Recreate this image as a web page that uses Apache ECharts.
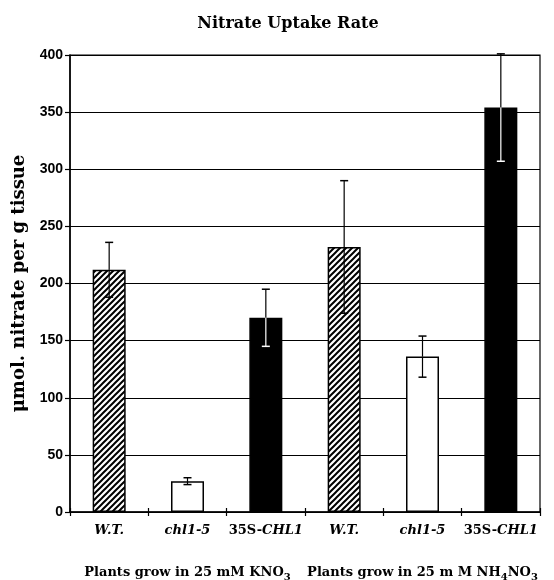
<!DOCTYPE html>
<html>
<head>
<meta charset="utf-8">
<script src="https://cdn.jsdelivr.net/npm/echarts@6/dist/echarts.min.js"></script>
<style>
html,body{margin:0;padding:0;background:#fff;}
#chart{width:554px;height:580px;}
</style>
</head>
<body>
<div id="chart"></div>
<script>
// ---- data ----
var categories = ['W.T.', 'chl1-5', '35S-CHL1', 'W.T.', 'chl1-5', '35S-CHL1'];
var values = [212, 27, 170, 232, 136, 354];
var errors = [24, 3, 25, 58, 18, 47];
var fills = ['hatch', 'white', 'black', 'hatch', 'white', 'black'];
var groupLabels = ['Plants grow in 25 mM KNO{s|3}', 'Plants grow in 25 m M NH{s|4}NO{s|3}'];
var yTicks = [0, 50, 100, 150, 200, 250, 300, 350, 400];

var SERIF = 'DejaVu Serif';

// hatch pattern
function makeHatch() {
  var s = 6;
  var c = document.createElement('canvas');
  c.width = s; c.height = s;
  var ctx = c.getContext('2d');
  ctx.fillStyle = '#fff';
  ctx.fillRect(0, 0, s, s);
  ctx.strokeStyle = '#000';
  ctx.lineWidth = 2;
  ctx.beginPath();
  ctx.moveTo(-s, 2 * s); ctx.lineTo(2 * s, -s);
  ctx.moveTo(-s, s); ctx.lineTo(s, -s);
  ctx.moveTo(0, 2 * s); ctx.lineTo(2 * s, 0);
  ctx.stroke();
  return c;
}
var hatch = makeHatch();

function fillColor(f) {
  if (f === 'hatch') return { image: hatch, repeat: 'repeat' };
  if (f === 'black') return '#000';
  return '#fff';
}

var barData = values.map(function (v, i) {
  return { value: v, itemStyle: { color: fillColor(fills[i]) } };
});
var errData = values.map(function (v, i) {
  return [i, v, errors[i], fills[i] === 'black' ? 1 : 0];
});

function catLabel(v) {
  if (v === '35S-CHL1') return '{n|35S-}{i|CHL1}';
  return '{i|' + v + '}';
}

var chart = echarts.init(document.getElementById('chart'), null, { renderer: 'canvas' });
chart.setOption({
  animation: false,
  backgroundColor: '#fff',
  title: {
    text: 'Nitrate Uptake Rate',
    left: 283, top: 11, textAlign: 'center',
    textStyle: { fontFamily: SERIF, fontWeight: 'bold', fontSize: 16, color: '#000' }
  },
  grid: { left: 70, right: 14, top: 55, bottom: 68, outerBoundsMode: 'none', containLabel: false, show: true, borderColor: '#000', borderWidth: 1.2, backgroundColor: 'transparent' },
  xAxis: [{
    type: 'category',
    data: categories,
    axisLine: { lineStyle: { color: '#000', width: 1.5 } },
    axisTick: { show: true, length: 4, lineStyle: { color: '#000', width: 1.2 } },
    axisLabel: {
      interval: 0,
      margin: 12,
      formatter: function (v) { return catLabel(v); },
      rich: {
        n: { fontFamily: SERIF, fontWeight: 'bold', fontSize: 13, color: '#000' },
        i: { fontFamily: SERIF, fontWeight: 'bold', fontStyle: 'italic', fontSize: 13, color: '#000' }
      }
    }
  }, {
    type: 'category',
    data: categories,
    position: 'bottom',
    axisLine: { show: false },
    axisTick: { show: true, inside: true, length: 4, lineStyle: { color: '#000', width: 1.2 } },
    axisLabel: { show: false }
  }, {
    type: 'category',
    data: groupLabels,
    position: 'bottom',
    offset: 44,
    axisLine: { show: false },
    axisTick: { show: false },
    axisLabel: {
      interval: 0,
      margin: 7,
      formatter: function (v) { return v; },
      rich: {
        s: { fontFamily: SERIF, fontWeight: 'bold', fontSize: 10, color: '#000', padding: [9, 0, 0, 0] }
      },
      fontFamily: SERIF, fontWeight: 'bold', fontSize: 13, color: '#000'
    }
  }],
  yAxis: {
    type: 'value',
    min: yTicks[0], max: yTicks[yTicks.length - 1], interval: 50,
    name: 'μmol. nitrate per g tissue',
    nameLocation: 'middle',
    nameGap: 40,
    nameTextStyle: { fontFamily: SERIF, fontWeight: 'bold', fontSize: 18, color: '#000' },
    axisLine: { show: true, lineStyle: { color: '#000', width: 1.5 } },
    axisTick: { show: true, length: 5, lineStyle: { color: '#000', width: 1.2 } },
    axisLabel: { margin: 7, fontFamily: 'Liberation Sans', fontWeight: 'bold', fontSize: 14, color: '#000' },
    splitLine: { show: true, lineStyle: { color: '#000', width: 1.2 } }
  },
  series: [{
    type: 'bar',
    data: barData,
    barWidth: 33,
    itemStyle: { borderColor: '#000', borderWidth: 1.5 }
  }, {
    type: 'custom',
    data: errData,
    z: 10,
    renderItem: function (params, api) {
      var i = api.value(0), v = api.value(1), e = api.value(2), inv = api.value(3);
      var top = api.coord([i, v + e]);
      var mid = api.coord([i, v]);
      var bot = api.coord([i, v - e]);
      var hw = 4;
      var lowCol = inv ? '#fff' : '#000';
      return {
        type: 'group',
        children: [
          { type: 'line', shape: { x1: top[0], y1: top[1], x2: mid[0], y2: mid[1] }, style: { stroke: '#000', lineWidth: 1.2 } },
          { type: 'line', shape: { x1: top[0] - hw, y1: top[1], x2: top[0] + hw, y2: top[1] }, style: { stroke: '#000', lineWidth: 1.5 } },
          { type: 'line', shape: { x1: mid[0], y1: mid[1], x2: bot[0], y2: bot[1] }, style: { stroke: lowCol, lineWidth: 1.2 } },
          { type: 'line', shape: { x1: bot[0] - hw, y1: bot[1], x2: bot[0] + hw, y2: bot[1] }, style: { stroke: lowCol, lineWidth: 1.5 } }
        ]
      };
    }
  }]
});
</script>
</body>
</html>
